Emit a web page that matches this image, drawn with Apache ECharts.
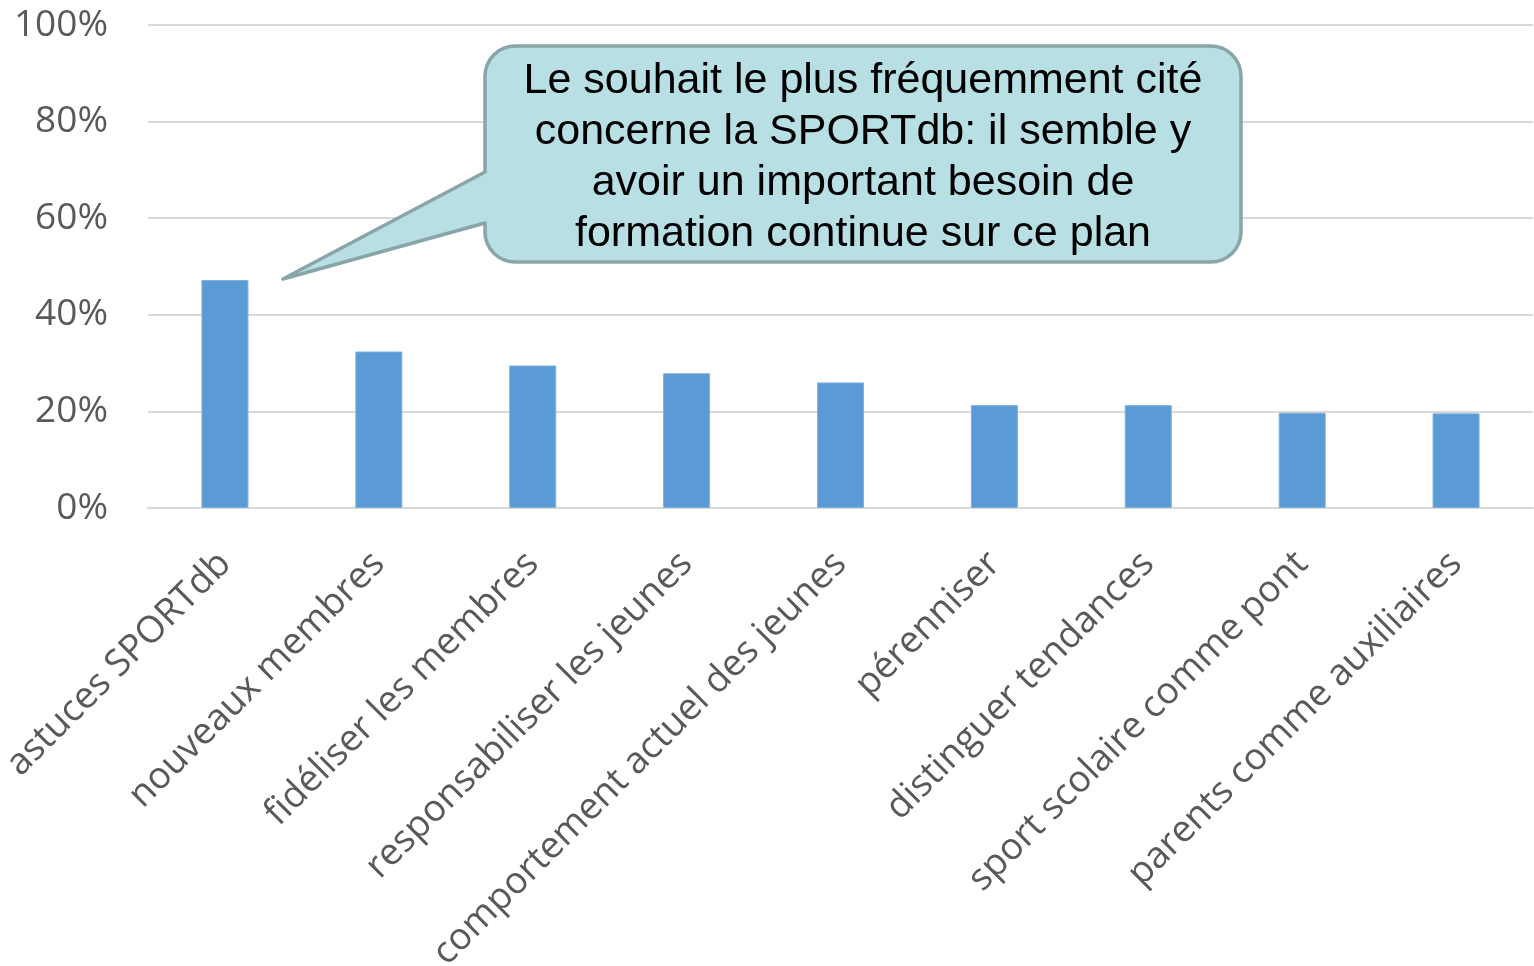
<!DOCTYPE html>
<html>
<head>
<meta charset="utf-8">
<script src="https://cdn.jsdelivr.net/npm/echarts@6/dist/echarts.min.js"></script>
<style>
  html, body { margin: 0; padding: 0; background: #fff; }
  #chart { width: 1534px; height: 966px; }
</style>
</head>
<body>
<div id="chart"></div>
<script>
// categories and values (percent)
const categories = [
  'astuces SPORTdb',
  'nouveaux membres',
  'fidéliser les membres',
  'responsabiliser les jeunes',
  'comportement actuel des jeunes',
  'pérenniser',
  'distinguer tendances',
  'sport scolaire comme pont',
  'parents comme auxiliaires'
]
const values = [47.2, 32.4, 29.5, 27.9, 26.0, 21.3, 21.3, 19.7, 19.6]
const yTicks = [0, 20, 40, 60, 80, 100]
const calloutText = [
  'Le souhait le plus fréquemment cité',
  'concerne la SPORTdb: il semble y',
  'avoir un important besoin de',
  'formation continue sur ce plan'
]

const myChart = echarts.init(document.getElementById('chart'))

const option = {
  animation: false,
  grid: {
    left: 148,
    right: 1,
    top: 25,
    bottom: 458,
    containLabel: false,
    outerBoundsMode: 'none'
  },
  xAxis: {
    type: 'category',
    data: categories,
    axisLine: { lineStyle: { color: '#d9d9d9', width: 2 } },
    axisTick: { show: false },
    axisLabel: {
      rotate: 45,
      interval: 0,
      margin: 50,
      color: '#595959',
      fontFamily: 'Open Sans',
      fontSize: 37
    }
  },
  yAxis: {
    type: 'value',
    min: yTicks[0],
    max: yTicks[yTicks.length - 1],
    interval: 20,
    axisLine: { show: false },
    axisTick: { show: false },
    splitLine: { lineStyle: { color: '#d9d9d9', width: 2 } },
    axisLabel: {
      margin: 40,
      color: '#595959',
      fontFamily: 'Open Sans',
      fontSize: 37,
      padding: [6, 0, 0, 0],
      formatter: '{value}%'
    }
  },
  series: [
    {
      type: 'bar',
      data: values,
      barWidth: 47,
      itemStyle: {
        color: '#5b9bd5',
        borderColor: '#7fb0de',
        borderWidth: 1
      }
    }
  ]
}

myChart.setOption(option)

// callout shape: rounded box with a pointer towards the first bar
const barTop = myChart.convertToPixel({ seriesIndex: 0 }, [0, values[0]])
const tip = [barTop[0] + 58, barTop[1] - 1]
const x0 = 485, y0 = 46, x1 = 1241, y1 = 262, r = 30

function corner (cx, cy, a0, a1) {
  const pts = []
  for (let i = 0; i <= 8; i++) {
    const a = a0 + (a1 - a0) * i / 8
    pts.push([cx + r * Math.cos(a), cy + r * Math.sin(a)])
  }
  return pts
}

const points = [].concat(
  corner(x0 + r, y0 + r, Math.PI, Math.PI * 1.5),
  corner(x1 - r, y0 + r, Math.PI * 1.5, Math.PI * 2),
  corner(x1 - r, y1 - r, 0, Math.PI * 0.5),
  corner(x0 + r, y1 - r, Math.PI * 0.5, Math.PI),
  [[x0, 223], tip, [x0, 172]]
)

myChart.setOption({
  graphic: [
    {
      type: 'polygon',
      shape: { points: points },
      style: { fill: '#b8dfe3', stroke: '#8aa5a9', lineWidth: 3.5, lineJoin: 'round' },
      z: 100
    },
    {
      type: 'text',
      x: 863,
      y: 158,
      style: {
        text: calloutText.join('\n'),
        fill: '#000',
        font: '43px "Liberation Sans", Arial, sans-serif',
        lineHeight: 51,
        align: 'center',
        verticalAlign: 'middle'
      },
      z: 101
    }
  ]
})
</script>
</body>
</html>
